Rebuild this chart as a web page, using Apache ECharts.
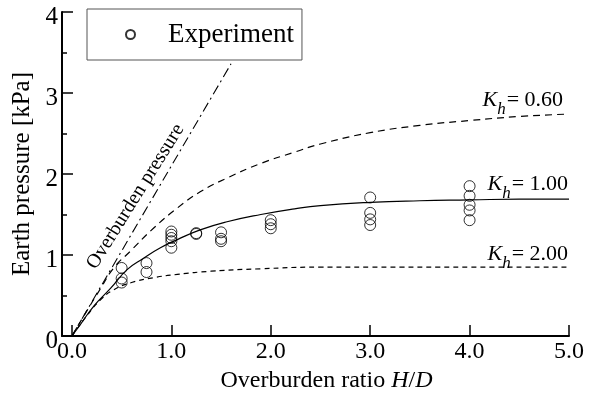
<!DOCTYPE html>
<html><head><meta charset="utf-8">
<script src="https://cdn.jsdelivr.net/npm/echarts@6/dist/echarts.min.js"></script>
<style>html,body{margin:0;padding:0;background:#fff}#c{width:595px;height:396px}</style>
</head><body><div id="c"></div>
<script>
// ---- data ----
const xTickValues = [0, 1, 2, 3, 4, 5];
const expX = [0.5,0.5,0.5, 0.75,0.75, 1,1,1,1,1, 1.25,1.25, 1.5,1.5,1.5, 2,2,2, 3,3,3,3, 4,4,4,4,4];
const expY = [0.84,0.71,0.66, 0.90,0.79, 1.29,1.25,1.21,1.17,1.09, 1.27,1.26, 1.28,1.20,1.17, 1.43,1.38,1.33, 1.71,1.52,1.44,1.37, 1.85,1.73,1.62,1.55,1.43];
const overX = [0, 1.6];
const overY = [0, 3.36];
const kh060X = [0, 0.15, 0.29, 0.42, 0.59, 0.82, 1.06, 1.29, 1.56, 1.9, 2.24, 2.5, 3.0, 3.5, 4.0, 4.5, 5.0];
const kh060Y = [0, 0.31, 0.59, 0.84, 1.05, 1.33, 1.58, 1.78, 1.95, 2.13, 2.27, 2.37, 2.51, 2.60, 2.66, 2.71, 2.74];
const kh100X = [0, 0.084, 0.22, 0.39, 0.555, 0.72, 0.89, 1.06, 1.29, 1.56, 1.9, 2.24, 2.5, 3.0, 3.5, 4.0, 4.5, 5.0];
const kh100Y = [0, 0.14, 0.37, 0.59, 0.82, 0.96, 1.09, 1.19, 1.31, 1.41, 1.50, 1.57, 1.61, 1.65, 1.67, 1.68, 1.69, 1.69];
const kh200X = [0, 0.15, 0.29, 0.42, 0.6, 0.82, 1.06, 1.4, 1.9, 2.5, 3.0, 4.0, 5.0];
const kh200Y = [0, 0.25, 0.45, 0.57, 0.66, 0.72, 0.76, 0.80, 0.83, 0.85, 0.85, 0.85, 0.85];
const khLabels = ['0.60', '1.00', '2.00'];

const zip = (a, b) => a.map((v, i) => [v, b[i]]);
const FONT = "'Liberation Serif','Times New Roman',serif";
const khRich = {
  k: {fontFamily: FONT, fontSize: 22, fontStyle: 'italic', color: '#000', verticalAlign: 'bottom', padding: [0, 0, 7, 0]},
  h: {fontFamily: FONT, fontSize: 17, fontStyle: 'italic', color: '#000', verticalAlign: 'bottom'},
  t: {fontFamily: FONT, fontSize: 22, color: '#000', verticalAlign: 'bottom', padding: [0, 0, 7, 1]}
};
function khMark(x, y, txt) {
  return {
    symbol: 'circle', symbolSize: 0, silent: true,
    data: [{coord: [x, y], itemStyle: {color: 'transparent'},
      label: {show: true, position: 'right', distance: 0,
        formatter: '{k|K}{h|h}{t|= ' + txt + '}', rich: khRich}}]
  };
}

const chart = echarts.init(document.getElementById('c'), null, {renderer: 'canvas'});
chart.setOption({
  animation: false,
  backgroundColor: '#fff',
  textStyle: {fontFamily: FONT, color: '#000'},
  grid: {left: 62, right: 26, top: 12, bottom: 60, containLabel: false, outerBoundsMode: 'none'},
  legend: {
    left: 87, top: 9,
    padding: [12, 8, 12, 38],
    borderColor: '#555', borderWidth: 1, borderRadius: 0,
    backgroundColor: '#fff',
    itemWidth: 9, itemHeight: 9,
    textStyle: {fontFamily: FONT, fontSize: 27, color: '#000', padding: [0, 0, 0, 28]},
    data: ['Experiment']
  },
  xAxis: {
    type: 'value', min: -0.1, max: 5,
    name: 'Overburden ratio {i|H}/{i|D}',
    nameLocation: 'middle', nameGap: 26,
    nameTextStyle: {fontFamily: FONT, fontSize: 24, color: '#000', padding: [0, 0, 0, 22],
      rich: {i: {fontFamily: FONT, fontSize: 24, fontStyle: 'italic', color: '#000'}}},
    axisLine: {onZero: false, lineStyle: {color: '#000', width: 2}},
    axisTick: {show: true, inside: true, length: 11, customValues: xTickValues, lineStyle: {color: '#000', width: 1.5}},
    axisLabel: {customValues: xTickValues, fontFamily: FONT, fontSize: 24, color: '#000', margin: 4,
      formatter: v => v.toFixed(1)},
    splitLine: {show: false}
  },
  yAxis: {
    type: 'value', min: 0, max: 4, interval: 1,
    name: 'Earth pressure [kPa]',
    nameLocation: 'middle', nameGap: 21, nameRotate: 90,
    nameTextStyle: {fontFamily: FONT, fontSize: 25, color: '#000'},
    axisLine: {show: true, onZero: false, lineStyle: {color: '#000', width: 2}},
    axisTick: {show: true, inside: true, length: 11, lineStyle: {color: '#000', width: 1.5}},
    minorTick: {show: true, splitNumber: 2, length: 5, lineStyle: {color: '#000', width: 1.5}},
    axisLabel: {fontFamily: FONT, fontSize: 25, color: '#000', margin: 4, verticalAlign: 'top', lineHeight: 10},
    splitLine: {show: false}, minorSplitLine: {show: false}
  },
  series: [
    {
      name: 'Overburden pressure', type: 'line', data: zip(overX, overY),
      showSymbol: false, symbol: 'none', z: 3,
      lineStyle: {color: '#000', width: 1.1, type: [10, 4, 2, 4]},
      markPoint: {
        symbol: 'circle', symbolSize: 0, silent: true,
        data: [{coord: [0.64, 1.72], itemStyle: {color: 'transparent'},
          label: {show: true, position: 'inside', rotate: 58, fontFamily: FONT, fontSize: 20, color: '#000',
            formatter: 'Overburden pressure'}}]
      }
    },
    {
      name: 'Kh060', type: 'line', data: zip(kh060X, kh060Y), smooth: true,
      showSymbol: false, symbol: 'none',
      lineStyle: {color: '#000', width: 1.2, type: [7, 5]},
      markPoint: khMark(4.13, 2.87, khLabels[0])
    },
    {
      name: 'Kh100', type: 'line', data: zip(kh100X, kh100Y), smooth: true,
      showSymbol: false, symbol: 'none',
      lineStyle: {color: '#000', width: 1.2, type: 'solid'},
      markPoint: khMark(4.18, 1.83, khLabels[1])
    },
    {
      name: 'Kh200', type: 'line', data: zip(kh200X, kh200Y), smooth: true,
      showSymbol: false, symbol: 'none',
      lineStyle: {color: '#000', width: 1.2, type: [5, 4]},
      markPoint: khMark(4.18, 0.97, khLabels[2])
    },
    {
      name: 'Experiment', type: 'scatter', data: zip(expX, expY),
      symbol: 'circle', symbolSize: 11, z: 5,
      itemStyle: {color: 'rgba(255,255,255,0)', borderColor: '#000', borderWidth: 1}
    }
  ]
});
</script>
</body></html>
